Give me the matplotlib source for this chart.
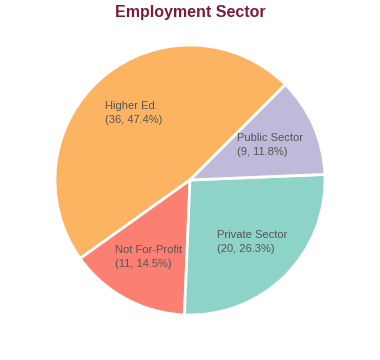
import numpy as np
import matplotlib
matplotlib.use("Agg")
import matplotlib.pyplot as plt

# %% data

sectors = ['Higher Ed.', 'Not For-Profit', 'Private Sector', 'Public Sector']
counts = [36, 11, 20, 9]
colors = ['#FDB462', '#FB8072', '#8DD3C7', '#BEBADA']

plt.rcParams['font.family'] = ['Liberation Sans', 'DejaVu Sans']

# %% figure

fig = plt.figure(figsize=(3.8, 3.6), dpi=100)
ax = fig.add_axes([55/380, 45/360, 270/380, 270/360])

wedges, _ = ax.pie(counts, colors=colors, startangle=45, counterclock=True,
                   wedgeprops=dict(edgecolor='white', linewidth=2))
ax.set_xlim(-1, 1)
ax.set_ylim(-1, 1)
ax.set_aspect('equal')

total = sum(counts)
for w, name, n in zip(wedges, sectors, counts):
    mid = np.deg2rad((w.theta1 + w.theta2) / 2)
    r = 0.65
    ax.text(r*np.cos(mid), r*np.sin(mid), f'{name}\n({n}, {100*n/total:.1f}%)',
            ha='center', va='center', multialignment='left',
            fontsize=8, color='#555555', linespacing=1.45)

fig.text(0.5, 1 - 13/360, 'Employment Sector', ha='center', va='center',
         fontsize=11.5, fontweight='bold', color='#7B1C3C')

plt.savefig('out.png', dpi=100)
